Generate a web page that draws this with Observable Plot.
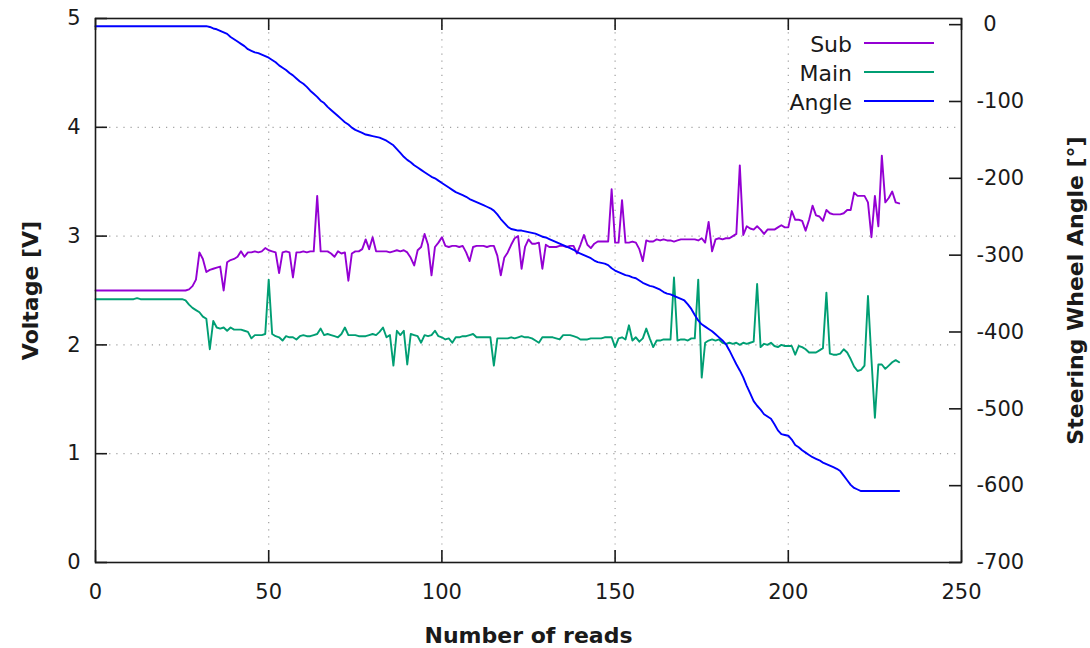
<!DOCTYPE html>
<html><head><meta charset="utf-8">
<script src="https://cdn.jsdelivr.net/npm/d3@7"></script>
<script src="https://cdn.jsdelivr.net/npm/@observablehq/plot@0.6"></script>
<style>body{margin:0;background:#fff;} #chart svg{display:block;}</style>
</head><body><div id="chart"></div>
<script>
// ---- data ----
const sub = [
2.50,2.50,2.50,2.50,2.50,2.50,2.50,2.50,2.50,2.50,
2.50,2.50,2.50,2.50,2.50,2.50,2.50,2.50,2.50,2.50,
2.50,2.50,2.50,2.50,2.50,2.50,2.50,2.51,2.54,2.60,
2.85,2.79,2.67,2.69,2.70,2.71,2.72,2.50,2.76,2.78,
2.79,2.81,2.86,2.81,2.85,2.85,2.86,2.85,2.86,2.89,
2.87,2.86,2.85,2.66,2.85,2.86,2.85,2.62,2.85,2.85,
2.86,2.85,2.86,2.86,3.37,2.86,2.86,2.86,2.84,2.81,
2.86,2.84,2.85,2.59,2.84,2.86,2.86,2.88,2.97,2.88,
2.99,2.86,2.86,2.86,2.86,2.85,2.86,2.87,2.86,2.87,
2.85,2.80,2.73,2.87,2.90,3.02,2.92,2.64,2.90,2.94,
2.99,2.91,2.90,2.91,2.91,2.90,2.91,2.85,2.77,2.90,
2.91,2.91,2.91,2.90,2.91,2.91,2.82,2.64,2.80,2.85,
2.92,2.98,3.00,2.70,2.90,2.97,2.93,2.93,2.94,2.70,
2.92,2.90,2.90,2.90,2.91,2.91,2.90,2.91,2.91,2.84,
2.92,3.01,2.92,2.89,2.93,2.95,2.95,2.95,2.95,3.43,
2.94,2.94,3.33,2.94,2.94,2.95,2.94,2.88,2.77,2.96,
2.95,2.95,2.97,2.96,2.97,2.96,2.96,2.95,2.96,2.97,
2.97,2.97,2.97,2.97,2.96,2.98,2.94,3.13,2.86,2.97,
2.98,2.97,2.98,2.98,3.00,3.02,3.65,3.01,3.09,3.07,
3.06,3.09,3.06,3.02,3.06,3.06,3.06,3.08,3.10,3.08,
3.08,3.23,3.15,3.15,3.14,3.05,3.15,3.28,3.19,3.18,
3.14,3.24,3.21,3.20,3.20,3.20,3.21,3.24,3.24,3.40,
3.37,3.37,3.37,3.31,2.99,3.37,3.09,3.74,3.31,3.35,
3.41,3.31,3.30];

const main = [
2.42,2.42,2.42,2.42,2.42,2.42,2.42,2.42,2.42,2.42,
2.42,2.42,2.43,2.42,2.42,2.42,2.42,2.42,2.42,2.42,
2.42,2.42,2.42,2.42,2.42,2.42,2.41,2.37,2.34,2.32,
2.30,2.26,2.24,1.96,2.22,2.16,2.15,2.16,2.13,2.16,
2.14,2.14,2.14,2.13,2.12,2.06,2.09,2.09,2.09,2.10,
2.60,2.10,2.08,2.07,2.04,2.08,2.07,2.07,2.05,2.08,
2.09,2.08,2.08,2.09,2.10,2.15,2.09,2.10,2.09,2.08,
2.07,2.10,2.16,2.09,2.09,2.09,2.08,2.08,2.08,2.09,
2.10,2.09,2.12,2.16,2.07,2.09,1.81,2.13,2.09,2.13,
1.82,2.10,2.09,2.08,2.02,2.09,2.08,2.09,2.13,2.08,
2.07,2.05,2.06,2.02,2.07,2.07,2.08,2.08,2.09,2.10,
2.07,2.07,2.07,2.07,2.07,1.81,2.06,2.06,2.06,2.06,
2.07,2.06,2.07,2.08,2.07,2.07,2.06,2.04,2.02,2.07,
2.07,2.07,2.07,2.06,2.05,2.09,2.09,2.09,2.08,2.07,
2.05,2.05,2.05,2.06,2.06,2.06,2.06,2.07,2.07,2.07,
1.98,2.06,2.07,2.05,2.18,2.04,2.07,2.03,2.06,2.15,
2.06,1.98,2.04,2.04,2.05,2.05,2.05,2.62,2.04,2.05,
2.05,2.04,2.06,2.06,2.60,1.70,2.02,2.04,2.05,2.04,
2.05,2.02,2.01,2.02,2.01,2.02,2.00,2.02,2.01,2.02,
2.03,2.56,1.98,2.01,2.00,2.02,1.99,1.98,2.00,1.99,
1.99,1.99,1.91,1.99,1.98,1.96,1.93,1.93,1.93,1.95,
1.97,2.48,1.92,1.91,1.91,1.92,1.96,1.93,1.87,1.80,
1.76,1.77,1.81,2.45,1.87,1.33,1.82,1.82,1.78,1.81,
1.84,1.86,1.84];

const angle = [
-2,-2,-2,-2,-2,-2,-2,-2,-2,-2,
-2,-2,-2,-2,-2,-2,-2,-2,-2,-2,
-2,-2,-2,-2,-2,-2,-2,-2,-2,-2,
-2,-2,-2,-3,-5,-6,-8,-10,-12,-16,
-19,-22,-25,-28,-32,-34,-36,-37,-39,-41,
-43,-46,-49,-53,-56,-59,-63,-66,-70,-74,
-77,-81,-86,-90,-94,-99,-102,-107,-111,-115,
-119,-123,-127,-130,-134,-137,-139,-141,-143,-144,
-145,-146,-147,-149,-151,-154,-157,-162,-167,-172,
-176,-179,-183,-186,-189,-192,-195,-198,-200,-203,
-206,-209,-212,-215,-218,-220,-222,-224,-227,-229,
-231,-233,-235,-237,-239,-242,-247,-253,-258,-263,
-266,-267,-268,-268,-269,-270,-271,-272,-274,-276,
-277,-279,-281,-283,-285,-287,-289,-291,-293,-296,
-298,-300,-302,-304,-307,-309,-310,-311,-313,-317,
-320,-322,-324,-326,-327,-329,-330,-333,-336,-338,
-340,-341,-343,-345,-348,-350,-351,-353,-355,-357,
-359,-364,-370,-378,-385,-390,-393,-396,-399,-403,
-407,-411,-416,-424,-433,-442,-450,-459,-470,-480,
-490,-496,-501,-507,-510,-513,-520,-528,-533,-534,
-535,-540,-547,-550,-554,-557,-560,-563,-565,-567,
-570,-572,-574,-576,-578,-581,-587,-593,-599,-603,
-605,-607,-607,-607,-607,-607,-607,-607,-607,-607,
-607,-607,-607];

const seriesNames = ["Sub", "Main", "Angle"];
const seriesColors = ["#9400d3", "#009e73", "#0000ff"];
const xTicks = [0, 50, 100, 150, 200, 250];
const xGrid = [50, 100, 150, 200];
const voltTicks = [0, 1, 2, 3, 4, 5];
const voltGrid = [1, 2, 3, 4];
const angleTicks = [0, -100, -200, -300, -400, -500, -600, -700];
const voltDomain = [0, 5];
const angleDomain = [-700, 8];
const xDomain = [0, 250];

// map angle (y2 axis) into the voltage scale
const toV = a => voltDomain[0] + (a - angleDomain[0]) / (angleDomain[1] - angleDomain[0]) * (voltDomain[1] - voltDomain[0]);
const toA = v => angleDomain[0] + (v - voltDomain[0]) / (voltDomain[1] - voltDomain[0]) * (angleDomain[1] - angleDomain[0]);

const reads = d3.range(sub.length);
const seriesValues = [sub, main, angle.map(toV)];

const W = 1090, H = 648, mL = 95, mR = 129, mT = 18, mB = 86;
const innerW = W - mL - mR, innerH = H - mT - mB, tick = 12;
const ink = "#1a1a1a";
const gridStyle = {stroke: "#a0a0a0", strokeWidth: 1.2, strokeDasharray: "1.2,5.9"};
const tickStyle = {stroke: ink, strokeWidth: 1.6};

const plot = Plot.plot({
  width: W,
  height: H,
  marginLeft: mL,
  marginRight: mR,
  marginTop: mT,
  marginBottom: mB,
  style: {fontFamily: "'DejaVu Sans', sans-serif", fontSize: "21px", color: ink, background: "#fff"},
  x: {domain: xDomain},
  y: {domain: voltDomain},
  marks: [
    Plot.ruleX(xGrid, gridStyle),
    Plot.ruleY(voltGrid, gridStyle),
    // inward tick marks (bottom, mirrored top, left, right/y2)
    Plot.tickX(xTicks, {x: d => d, insetTop: innerH - tick, ...tickStyle}),
    Plot.tickX(xTicks, {x: d => d, insetBottom: innerH - tick, ...tickStyle}),
    Plot.tickY(voltTicks, {y: d => d, insetRight: innerW - tick, ...tickStyle}),
    Plot.tickY(angleTicks, {y: d => toV(d), insetLeft: innerW - tick, ...tickStyle}),
    // tick labels
    Plot.axisX(xTicks, {anchor: "bottom", tickSize: 0, tickPadding: 22, label: null, fill: ink, tickFormat: d3.format("d")}),
    Plot.axisY(voltTicks, {anchor: "left", tickSize: 0, tickPadding: 15, label: null, fill: ink, tickFormat: d3.format("d")}),
    Plot.axisY(angleTicks.map(toV), {anchor: "right", tickSize: 0, tickPadding: 15, label: null, fill: ink,
      tickFormat: v => { const a = Math.round(toA(v)); return a === 0 ? "\u20080" : String(a); }}),
    // series
    ...seriesValues.map((vals, s) => Plot.line(reads, {x: d => d, y: d => vals[d], stroke: seriesColors[s], strokeWidth: 1.9})),
    Plot.frame({stroke: ink, strokeWidth: 1.6}),
    // axis titles
    Plot.text(["Voltage [V]"], {text: d => d, frameAnchor: "left", textAnchor: "middle", lineAnchor: "middle", rotate: -90, dx: -65, fontWeight: "bold", fontSize: 22, fill: ink}),
    Plot.text(["Steering Wheel Angle [°]"], {text: d => d, frameAnchor: "right", textAnchor: "middle", lineAnchor: "middle", rotate: -90, dx: 114, fontWeight: "bold", fontSize: 22, fill: ink}),
    Plot.text(["Number of reads"], {text: d => d, frameAnchor: "bottom", textAnchor: "middle", lineAnchor: "middle", dy: 73, fontWeight: "bold", fontSize: 22, fill: ink})
  ]
});

// legend (top-right, inside the frame)
const svg = d3.select(plot);
const lg = svg.append("g").attr("font-family", "'DejaVu Sans', sans-serif").attr("font-size", 22);
seriesNames.forEach((name, i) => {
  const cy = 44 + i * 29;
  lg.append("text").attr("x", 852).attr("y", cy).attr("dy", "0.35em").attr("text-anchor", "end").attr("fill", ink).text(name);
  lg.append("line").attr("x1", 864).attr("x2", 934).attr("y1", cy - 1).attr("y2", cy - 1).attr("stroke", seriesColors[i]).attr("stroke-width", 1.9);
});

document.getElementById("chart").appendChild(plot);
</script>
</body></html>
